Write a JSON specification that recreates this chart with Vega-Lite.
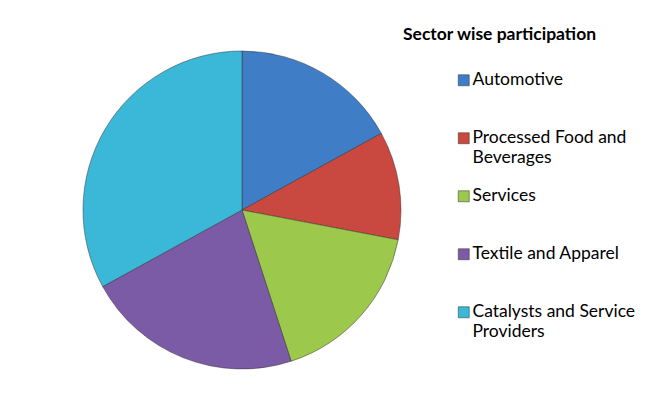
{
  "$schema": "https://vega.github.io/schema/vega-lite/v6.json",
  "width": 484,
  "height": 420,
  "padding": {"left": 0, "top": 0, "right": 172, "bottom": 0},
  "autosize": {"type": "none"},
  "background": "white",
  "config": {"view": {"stroke": null}, "font": "Lato"},
  "data": {
    "values": [
      {"sector": "Automotive", "share": 17, "rank": 1},
      {"sector": "Processed Food and Beverages", "share": 11, "rank": 2},
      {"sector": "Services", "share": 17, "rank": 3},
      {"sector": "Textile and Apparel", "share": 22, "rank": 4},
      {"sector": "Catalysts and Service Providers", "share": 33, "rank": 5}
    ]
  },
  "mark": {"type": "arc", "outerRadius": 159, "stroke": "#2f2f2f", "strokeWidth": 0.8, "strokeOpacity": 0.6},
  "encoding": {
    "theta": {"field": "share", "type": "quantitative", "stack": true},
    "order": {"field": "rank", "type": "quantitative"},
    "color": {
      "field": "sector",
      "type": "nominal",
      "scale": {
        "domain": ["Automotive", "Processed Food and Beverages", "Services", "Textile and Apparel", "Catalysts and Service Providers"],
        "range": ["#3F7EC6", "#C9483F", "#9CC84B", "#7C5BA6", "#3BB7D7"]
      },
      "legend": {
        "title": "Sector wise participation",
        "orient": "none",
        "legendX": 403,
        "legendY": 26,
        "titleFont": "Lato",
        "titleFontSize": 17.5,
        "titleFontWeight": "bold",
        "titleColor": "#000000",
        "titleLimit": 400,
        "titlePadding": 28,
        "labelFont": "Lato",
        "labelFontSize": 17.5,
        "labelColor": "#000000",
        "labelLimit": 300,
        "symbolType": "square",
        "symbolSize": 121,
        "symbolOffset": 52,
        "labelOffset": 0,
        "symbolStrokeWidth": 0.5,
        "rowPadding": 20,
        "gridAlign": "all",
        "labelExpr": "datum.label == 'Processed Food and Beverages' ? ['Processed Food and', 'Beverages'] : datum.label == 'Catalysts and Service Providers' ? ['Catalysts and Service', 'Providers'] : datum.label",
        "encode": {
          "labels": {
            "enter": {
              "lineHeight": {"value": 22}
            },
            "update": {
              "lineHeight": {"value": 22}
            }
          }
        }
      }
    }
  }
}
